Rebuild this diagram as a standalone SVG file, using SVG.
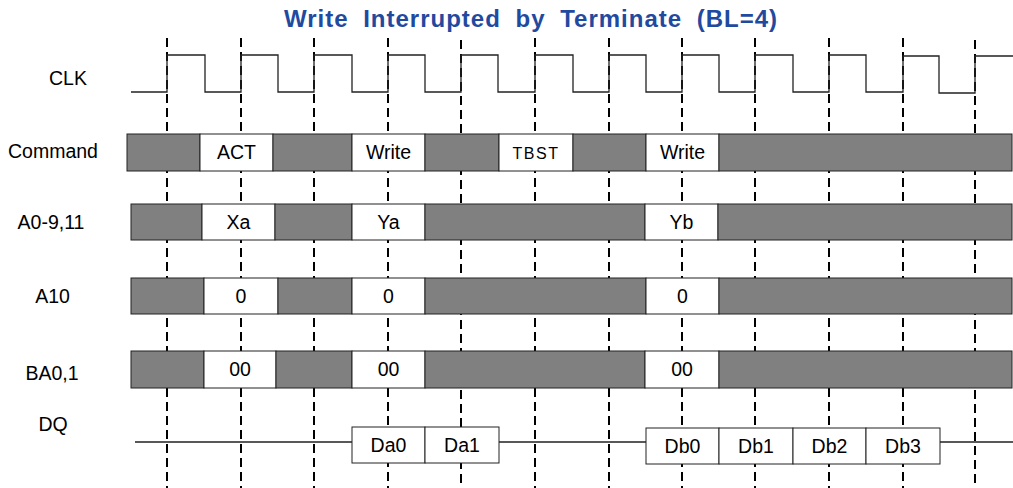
<svg xmlns="http://www.w3.org/2000/svg" width="1013" height="488" viewBox="0 0 1013 488">
<style>
.lbl{font-family:"Liberation Sans",Arial,sans-serif;font-size:19.5px;fill:#000;text-anchor:middle}
.bx{font-family:"Liberation Sans",Arial,sans-serif;font-size:19.5px;fill:#000;text-anchor:middle}
.sm{font-size:16px;letter-spacing:1.5px}
.g{fill:#808080;stroke:#222;stroke-width:1}
.w{fill:#fff;stroke:#222;stroke-width:1}
.edge{stroke:#000;stroke-width:2;stroke-dasharray:9 5;fill:none}
.wire{stroke:#222;stroke-width:1.3;fill:none}
.title{font-family:"Liberation Sans",Arial,sans-serif;font-size:24px;font-weight:bold;fill:#1f4aa0;text-anchor:middle;letter-spacing:1px;word-spacing:7px}
</style>
<rect width="1013" height="488" fill="#fff"/>
<text id="title" class="title" x="531" y="27">Write Interrupted by Terminate (BL=4)</text>

<g id="connectors">
<line class="edge" x1="167" y1="38" x2="167" y2="488"/>
<line class="edge" x1="241" y1="38" x2="241" y2="488"/>
<line class="edge" x1="314" y1="38" x2="314" y2="488"/>
<line class="edge" x1="388" y1="38" x2="388" y2="488"/>
<line class="edge" x1="461" y1="40" x2="461" y2="488"/>
<line class="edge" x1="535" y1="38" x2="535" y2="488"/>
<line class="edge" x1="609" y1="38" x2="609" y2="488"/>
<line class="edge" x1="682" y1="38" x2="682" y2="488"/>
<line class="edge" x1="755" y1="38" x2="755" y2="488"/>
<line class="edge" x1="829" y1="38" x2="829" y2="488"/>
<line class="edge" x1="903" y1="38" x2="903" y2="488"/>
<line class="edge" x1="975" y1="40" x2="975" y2="488"/>
</g>

<g id="clk">
<text class="lbl" x="68" y="85">CLK</text>
<path class="wire" d="M131,92 H167 V55 H205 V92 H241 V55 H278 V92 H314 V55 H352 V92 H388 V55 H425 V92 H461 V55 H498 V92 H535 V55 H573 V92 H609 V55 H646 V92 H682 V55 H719 V92 H755 V55 H793 V92 H829 V55 H866 V92 H903 V56 H939 V93 H975 V56 H1013"/>
</g>

<g id="command">
<text class="lbl" x="53" y="158">Command</text>
<rect class="g" x="127" y="134" width="73" height="37"/>
<rect class="w" x="200" y="134" width="73" height="37"/>
<rect class="g" x="273" y="134" width="79" height="37"/>
<rect class="w" x="352" y="134" width="73" height="37"/>
<rect class="g" x="425" y="134" width="74" height="37"/>
<rect class="w" x="499" y="134" width="74" height="37"/>
<rect class="g" x="573" y="134" width="73" height="37"/>
<rect class="w" x="646" y="134" width="73" height="37"/>
<rect class="g" x="719" y="134" width="293" height="37"/>
<text class="bx" x="236.5" y="159">ACT</text>
<text class="bx" x="388.5" y="159">Write</text>
<text class="bx sm" x="536" y="159">TBST</text>
<text class="bx" x="682.5" y="159">Write</text>
</g>

<g id="addr">
<text class="lbl" x="51" y="229">A0-9,11</text>
<rect class="g" x="131" y="204" width="71" height="36"/>
<rect class="w" x="202" y="204" width="73" height="36"/>
<rect class="g" x="275" y="204" width="77" height="36"/>
<rect class="w" x="352" y="204" width="73" height="36"/>
<rect class="g" x="425" y="204" width="220" height="36"/>
<rect class="w" x="645" y="204" width="73" height="36"/>
<rect class="g" x="718" y="204" width="294" height="36"/>
<text class="bx" x="238.5" y="229">Xa</text>
<text class="bx" x="388.5" y="229">Ya</text>
<text class="bx" x="681.5" y="229">Yb</text>
</g>

<g id="a10">
<text class="lbl" x="52.5" y="303">A10</text>
<rect class="g" x="131" y="278" width="73" height="36"/>
<rect class="w" x="204" y="278" width="74" height="36"/>
<rect class="g" x="278" y="278" width="74" height="36"/>
<rect class="w" x="352" y="278" width="73" height="36"/>
<rect class="g" x="425" y="278" width="221" height="36"/>
<rect class="w" x="646" y="278" width="73" height="36"/>
<rect class="g" x="719" y="278" width="293" height="36"/>
<text class="bx" x="241" y="303">0</text>
<text class="bx" x="388.5" y="303">0</text>
<text class="bx" x="682.5" y="303">0</text>
</g>

<g id="ba">
<text class="lbl" x="52" y="380">BA0,1</text>
<rect class="g" x="131" y="351" width="73" height="37"/>
<rect class="w" x="204" y="351" width="72" height="37"/>
<rect class="g" x="276" y="351" width="76" height="37"/>
<rect class="w" x="352" y="351" width="73" height="37"/>
<rect class="g" x="425" y="351" width="220" height="37"/>
<rect class="w" x="645" y="351" width="74" height="37"/>
<rect class="g" x="719" y="351" width="293" height="37"/>
<text class="bx" x="240" y="376">00</text>
<text class="bx" x="388.5" y="376">00</text>
<text class="bx" x="682" y="376">00</text>
</g>

<g id="dq">
<text class="lbl" x="53" y="431">DQ</text>
<path class="wire" d="M135,442 H352 M499,442 H646 M940,442 H1013"/>
<rect class="w" x="352" y="427" width="73" height="36"/>
<rect class="w" x="425" y="427" width="74" height="36"/>
<rect class="w" x="646" y="428" width="73" height="36"/>
<rect class="w" x="719" y="428" width="74" height="36"/>
<rect class="w" x="793" y="428" width="73" height="36"/>
<rect class="w" x="866" y="428" width="74" height="36"/>
<text class="bx" x="388.5" y="452">Da0</text>
<text class="bx" x="462" y="452">Da1</text>
<text class="bx" x="682.5" y="453">Db0</text>
<text class="bx" x="756" y="453">Db1</text>
<text class="bx" x="829.5" y="453">Db2</text>
<text class="bx" x="903" y="453">Db3</text>
</g>
</svg>
